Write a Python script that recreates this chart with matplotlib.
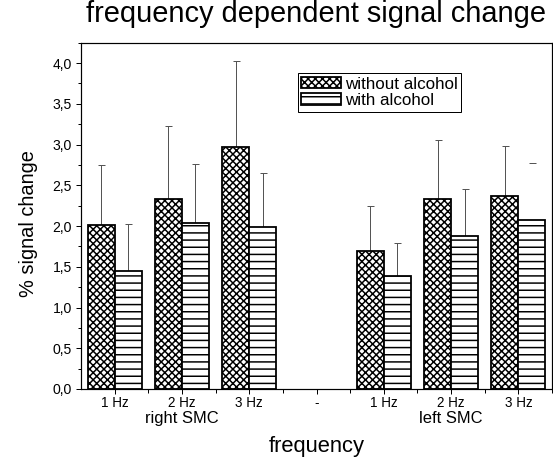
import numpy as np
import matplotlib
matplotlib.use("Agg")
import matplotlib.pyplot as plt
from matplotlib.ticker import MultipleLocator, FuncFormatter
import matplotlib.transforms as mtransforms

# data
categories = ['1 Hz', '2 Hz', '3 Hz', '-', '1 Hz', '2 Hz', '3 Hz']
without_alc = [2.01, 2.33, 2.97, np.nan, 1.69, 2.33, 2.37]
with_alc = [1.45, 2.04, 1.99, np.nan, 1.39, 1.88, 2.07]
err_without = [0.74, 0.90, 1.06, np.nan, 0.55, 0.73, 0.61]
err_with = [0.58, 0.72, 0.66, np.nan, 0.40, 0.57, 0.70]
groups = ['right SMC', 'left SMC']
group_pos = [1, 5]

DPI = 86
def pt(px):
    return px * 72.0 / DPI

plt.rcParams['font.family'] = ['Liberation Sans', 'DejaVu Sans']
plt.rcParams['hatch.linewidth'] = pt(1.5)

fig = plt.figure(figsize=(553 / DPI, 459 / DPI), dpi=DPI)
ax = fig.add_axes([81 / 553, 1 - 389 / 459, (552 - 81) / 553, (389 - 42.7) / 459])

x = np.arange(len(categories))
w = 0.4

# error bars first (only the upper part shows above the bars)
eb = dict(fmt='none', ecolor='#555555', capsize=pt(3.5), capthick=pt(1), zorder=1)
ax.errorbar(x[:6] - w / 2, without_alc[:6], yerr=[np.zeros(6), err_without[:6]], elinewidth=pt(1), **eb)
ax.errorbar(x[6:] - w / 2, without_alc[6:], yerr=[[0], err_without[6:]], elinewidth=pt(1), **eb)
ax.errorbar(x[:6] + w / 2, with_alc[:6], yerr=[np.zeros(6), err_with[:6]], elinewidth=pt(1), **eb)
# last one: only the cap is visible in the original
ax.errorbar(x[6:] + w / 2, with_alc[6:], yerr=[[0], err_with[6:]], elinewidth=0, **eb)

ax.bar(x - w / 2, without_alc, w, color='white', edgecolor='black', hatch='xxxx',
       linewidth=pt(1.8), label='without alcohol', zorder=2)
ax.bar(x + w / 2, with_alc, w, color='white', edgecolor='black', hatch='--',
       linewidth=pt(1.8), label='with alcohol', zorder=2)

ax.set_xlim(-0.5, 6.5)
ax.set_ylim(0, 4.25)

ax.set_xticks(x)
ax.set_xticklabels(categories, fontsize=pt(13.5))
ax.set_xticks(x + 0.5, minor=True)
ax.yaxis.set_major_locator(MultipleLocator(0.5))
ax.yaxis.set_minor_locator(MultipleLocator(0.25))
ax.yaxis.set_major_formatter(FuncFormatter(lambda v, p: f'{v:.1f}'.replace('.', ',')))
ax.tick_params(axis='y', labelsize=pt(14), direction='out', length=pt(5), width=pt(1), pad=pt(4))
ax.tick_params(axis='y', which='minor', direction='out', length=pt(3), width=pt(1))
ax.tick_params(axis='x', direction='out', length=pt(5), width=pt(1), pad=pt(2))
ax.tick_params(axis='x', which='minor', direction='out', length=pt(4), width=pt(1))
for s in ax.spines.values():
    s.set_linewidth(pt(1.2))

trans = mtransforms.blended_transform_factory(ax.transData, ax.transAxes)
for g, gp in zip(groups, group_pos):
    ax.text(gp, -0.098, g, transform=trans, ha='center', va='baseline', fontsize=pt(16.5))
ax.text(3, -0.182, 'frequency', transform=trans, ha='center', va='baseline', fontsize=pt(22))
ax.text(-0.112, 0.479, '% signal change', transform=ax.transAxes, rotation=90,
        ha='center', va='center', fontsize=pt(20))
ax.set_title('frequency dependent signal change', fontsize=pt(29), pad=pt(21))

leg = ax.legend(loc='upper left', bbox_to_anchor=(0.46, 0.9125), fontsize=pt(17),
                frameon=True, fancybox=False, edgecolor='black', framealpha=1,
                handlelength=2.35, handleheight=0.65, handletextpad=0.2,
                borderpad=0.22, labelspacing=0.08, borderaxespad=0)
leg.get_frame().set_linewidth(pt(1))

fig.savefig('out.png', dpi=DPI)
